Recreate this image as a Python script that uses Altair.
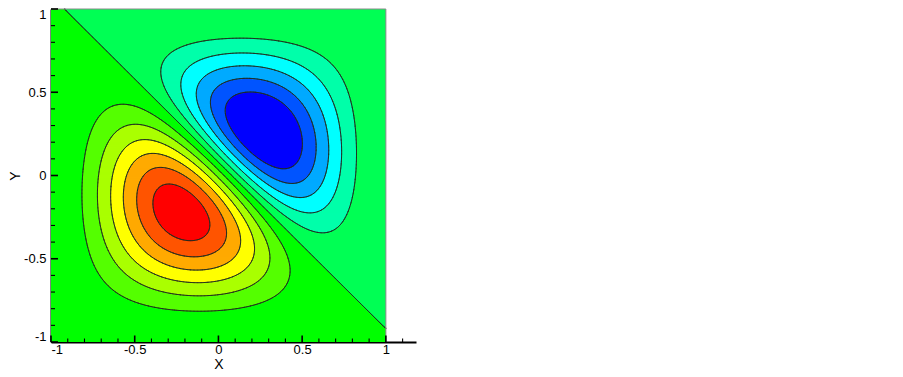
import numpy as np
import pandas as pd
import altair as alt

alt.data_transformers.disable_max_rows()

# ---- field description ----
ZERO_OFFSET = 0.08      # zero contour lies on x + y = 0.08
SHEAR_WIDTH = 0.50      # width of the steep band around the zero contour
EDGE_POWER = 1.75       # decay towards the box edges
ALONG_DECAY = 0.5       # extra decay along the zero contour
NEG_GAIN = 1.13         # negative (blue) lobe gain
LEVEL_STEP = 0.093      # contour spacing
level_index = [-5, -4, -3, -2, -1, 0, 1, 2, 3, 4, 5, 6]
band_colors = ["#0000ff", "#0055ff", "#00aaff", "#00ffff", "#00ffaa", "#00ff55",
               "#00ff00", "#55ff00", "#aaff00", "#ffff00", "#ffaa00", "#ff5500", "#ff0000"]

x_major = [-1, -0.5, 0, 0.5, 1]
y_major = [-1, -0.5, 0, 0.5, 1]
x_minor = [-0.9, -0.8, -0.7, -0.6, -0.4, -0.3, -0.2, -0.1, 0.1, 0.2, 0.3, 0.4,
           0.6, 0.7, 0.8, 0.9, 1.1]
y_minor = [-0.9, -0.8, -0.7, -0.6, -0.4, -0.3, -0.2, -0.1, 0.1, 0.2, 0.3, 0.4,
           0.6, 0.7, 0.8, 0.9]
X_DOMAIN = [-1, 1.18]
Y_DOMAIN = [-1, 1]

levels = np.array(level_index) * LEVEL_STEP


def field(x, y):
    t = -np.tanh((x + y - ZERO_OFFSET) / SHEAR_WIDTH)
    v = (x - y) / np.sqrt(2)
    env = (np.clip(np.cos(np.pi * x / 2), 0, None) *
           np.clip(np.cos(np.pi * y / 2), 0, None)) ** EDGE_POWER
    env = env * np.exp(-ALONG_DECAY * v ** 2) + 1e-9
    g = np.where(t < 0, NEG_GAIN, 1.0)
    return t * env * g


# ---- filled bands: row runs ----
NY, NX = 333, 670
dy = 2.0 / NY
dx = 2.0 / NX
xc = -1 + (np.arange(NX) + 0.5) * dx
rows = []
for j in range(NY):
    yc = -1 + (j + 0.5) * dy
    vals = field(xc, np.full_like(xc, yc))
    band = np.searchsorted(levels, vals)
    start = 0
    for i in range(1, NX + 1):
        if i == NX or band[i] != band[start]:
            rows.append({"x": -1 + start * dx, "x2": -1 + i * dx,
                         "y": yc - 0.65 * dy, "y2": yc + 0.65 * dy,
                         "c": band_colors[band[start]]})
            start = i
fill_df = pd.DataFrame(rows)
fill_df["y"] = fill_df["y"].clip(-1, 1)
fill_df["y2"] = fill_df["y2"].clip(-1, 1)

# ---- contour lines: marching squares ----
NC = 241
gx = np.linspace(-1, 1, NC)
gy = np.linspace(-1, 1, NC)
GX, GY = np.meshgrid(gx, gy)
F = field(GX, GY)


def segments_for(lev):
    out = []
    above = F > lev
    s = (above[:-1, :-1].astype(int) + above[:-1, 1:] + above[1:, :-1] + above[1:, 1:])
    js, iis = np.nonzero((s > 0) & (s < 4))
    for j, i in zip(js, iis):
        f00, f10, f01, f11 = F[j, i], F[j, i + 1], F[j + 1, i], F[j + 1, i + 1]
        x0, x1, y0, y1 = gx[i], gx[i + 1], gy[j], gy[j + 1]
        pts = []

        def fr(a, b):
            return (lev - a) / (b - a)
        if (f00 > lev) != (f10 > lev):
            pts.append((x0 + fr(f00, f10) * (x1 - x0), y0))
        if (f10 > lev) != (f11 > lev):
            pts.append((x1, y0 + fr(f10, f11) * (y1 - y0)))
        if (f11 > lev) != (f01 > lev):
            pts.append((x1 + fr(f11, f01) * (x0 - x1), y1))
        if (f01 > lev) != (f00 > lev):
            pts.append((x0, y1 + fr(f01, f00) * (y0 - y1)))
        if len(pts) == 2:
            out.append((pts[0][0], pts[0][1], pts[1][0], pts[1][1]))
        elif len(pts) == 4:
            c = (f00 + f10 + f01 + f11) / 4
            if (c > lev) == (f00 > lev):
                pairs = [(0, 1), (2, 3)]
            else:
                pairs = [(3, 0), (1, 2)]
            for a, b in pairs:
                out.append((pts[a][0], pts[a][1], pts[b][0], pts[b][1]))
    return out


segs = []
for lev in levels:
    segs.extend(segments_for(lev))
seg_df = pd.DataFrame(segs, columns=["x", "y", "x2", "y2"])

xs = alt.Scale(domain=X_DOMAIN, nice=False, zero=False)
ys = alt.Scale(domain=Y_DOMAIN, nice=False, zero=False)
W, H = 365, 333
FONT = "Liberation Sans"
lab = "datum.value == 0 ? '0' : toString(datum.value)"
ax_x = alt.Axis(values=x_major, title="X", labelExpr=lab, titleX=167.5, titleY=26,
                titleBaseline="alphabetic", labelPadding=1)
ax_y = alt.Axis(values=y_major, title="Y", labelExpr=lab, titleX=-32, titleY=166.5,
                titleBaseline="alphabetic", labelPadding=5,
                labelFlush=True, labelFlushOffset=1)

fill = alt.Chart(fill_df).mark_rect(strokeWidth=0).encode(
    x=alt.X("x:Q", scale=xs, axis=ax_x),
    x2="x2:Q",
    y=alt.Y("y:Q", scale=ys, axis=ax_y),
    y2="y2:Q",
    color=alt.Color("c:N", scale=None),
)

lines = alt.Chart(seg_df).mark_rule(color="#1e2a1e", strokeWidth=0.9, strokeCap="round").encode(
    x=alt.X("x:Q", scale=xs, axis=ax_x), y=alt.Y("y:Q", scale=ys, axis=ax_y),
    x2="x2:Q", y2="y2:Q")

frame_top = alt.Chart(pd.DataFrame({"x": [-1], "x2": [1], "y": [1]})).mark_rule(
    color="#8a8a8a", strokeWidth=1).encode(
    x=alt.X("x:Q", scale=xs, axis=ax_x), x2="x2:Q", y=alt.Y("y:Q", scale=ys, axis=ax_y))
frame_right = alt.Chart(pd.DataFrame({"x": [1], "y": [-1], "y2": [1]})).mark_rule(
    color="#8a8a8a", strokeWidth=1).encode(
    x=alt.X("x:Q", scale=xs, axis=ax_x), y=alt.Y("y:Q", scale=ys, axis=ax_y), y2="y2:Q")

xmaj = alt.Chart(pd.DataFrame({"x": x_major})).mark_rule(color="black", strokeWidth=1.6).encode(
    x=alt.X("x:Q", scale=xs, axis=ax_x), y=alt.value(H), y2=alt.value(H - 6.5))
xmin = alt.Chart(pd.DataFrame({"x": x_minor})).mark_rule(color="black", strokeWidth=1.1).encode(
    x=alt.X("x:Q", scale=xs, axis=ax_x), y=alt.value(H), y2=alt.value(H - 3.5))
ymaj = alt.Chart(pd.DataFrame({"y": y_major})).mark_rule(color="black", strokeWidth=1.6).encode(
    y=alt.Y("y:Q", scale=ys, axis=ax_y), x=alt.value(0), x2=alt.value(7))
ymin = alt.Chart(pd.DataFrame({"y": y_minor})).mark_rule(color="black", strokeWidth=1.1).encode(
    y=alt.Y("y:Q", scale=ys, axis=ax_y), x=alt.value(0), x2=alt.value(4))

chart = alt.layer(fill, lines, frame_top, frame_right, xmaj, xmin, ymaj, ymin).properties(
    width=W, height=H,
    autosize=alt.AutoSizeParams(type="none"),
    padding={"left": 43, "top": 1, "right": 5, "bottom": 40},
).configure_view(stroke=None).configure_axis(
    labelFont=FONT, labelFontSize=13, labelColor="black",
    titleFont=FONT, titleFontSize=14, titleFontWeight="normal", titleColor="black",
    domainColor="black", domainWidth=2, tickSize=0, grid=False,
)

chart.save("out.html", embed_options={"renderer": "svg", "actions": False})
